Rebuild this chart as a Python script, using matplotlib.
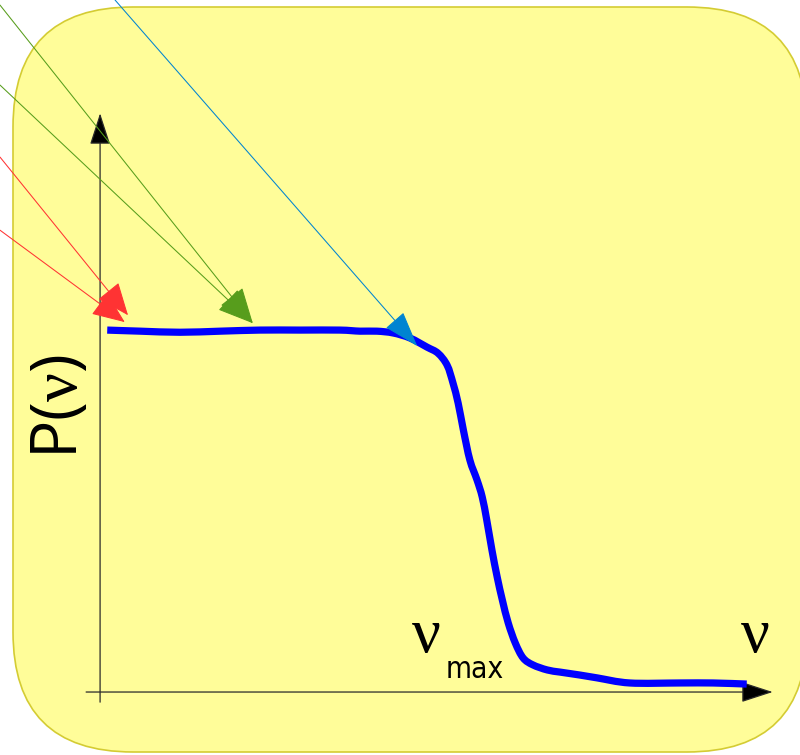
import os
import matplotlib
matplotlib.use('Agg')
import matplotlib.pyplot as plt
from matplotlib import font_manager
from matplotlib.patches import FancyBboxPatch, ArrowStyle, PathPatch
from matplotlib.path import Path

plt.rcParams['mathtext.fontset'] = 'custom'
plt.rcParams['mathtext.rm'] = 'Liberation Serif'

# ── Spectrum: frequency ν (axis units) vs P(ν) normalised to the plateau ──────
nu    = [0.11, 0.62, 1.23, 1.85, 2.46, 3.08, 3.69, 4.00, 4.26, 4.51, 4.77,
         5.03, 5.20, 5.34, 5.43, 5.51, 5.59, 5.69, 5.80, 5.88, 5.95, 6.03,
         6.11, 6.19, 6.28, 6.39, 6.51, 6.66, 6.88, 7.08, 7.38, 7.65, 8.15,
         8.92, 9.43, 9.95]
power = [1.000, 0.997, 0.994, 0.997, 1.000, 1.000, 1.000, 0.997, 0.997,
         0.992, 0.978, 0.953, 0.936, 0.903, 0.854, 0.798, 0.724, 0.641,
         0.586, 0.539, 0.475, 0.392, 0.318, 0.254, 0.191, 0.135, 0.094,
         0.075, 0.061, 0.055, 0.047, 0.039, 0.025, 0.025, 0.025, 0.022]

NU_MAX   = 5.02     # cut-off frequency label position
NU_LABEL = 10.08    # axis label for ν

# ── Callout arrows: (start ν, start P, tip ν, tip P, colour, head len, head half-width)
callouts = [
    (-1.54, 1.478, 0.43, 1.041, '#ff3333', 21.0, 8.6),
    (-1.54, 1.276, 0.38, 1.022, '#ff3333', 21.0, 8.6),
    (-1.54, 1.898, 2.35, 1.019, '#579d1c', 23.0, 9.2),
    (-1.54, 1.677, 2.35, 1.019, '#579d1c', 23.0, 9.2),
    ( 0.23, 1.912, 4.88, 0.956, '#0084d1', 23.0, 7.6),
]


def narrow_font():
    # condensed sans for the subscript, if one is installed
    found = []
    for f in font_manager.fontManager.ttflist:
        base = os.path.basename(f.fname).lower()
        if ('condensed' in base or 'narrow' in base) and not any(
                k in base for k in ('bold', 'oblique', 'italic', 'light',
                                    'semi', 'extra', 'thin', 'black', 'medium')):
            found.append(f.fname)
    found.sort(key=lambda p: 'dejavu' not in p.lower())
    if found:
        return font_manager.FontProperties(fname=found[0], size=21.5)
    return font_manager.FontProperties(family='Open Sans', size=21.5)


def smooth_path(xs, ys):
    # Catmull-Rom through the points, written as cubic Bézier segments
    pts = list(zip(xs, ys))
    verts, codes = [pts[0]], [Path.MOVETO]
    n = len(pts)
    for i in range(n - 1):
        p0 = pts[max(i - 1, 0)]
        p1 = pts[i]
        p2 = pts[i + 1]
        p3 = pts[min(i + 2, n - 1)]
        c1 = (p1[0] + (p2[0] - p0[0]) / 6, p1[1] + (p2[1] - p0[1]) / 6)
        c2 = (p2[0] - (p3[0] - p1[0]) / 6, p2[1] - (p3[1] - p1[1]) / 6)
        verts += [c1, c2, p2]
        codes += [Path.CURVE4] * 3
    return Path(verts, codes)


fig = plt.figure(figsize=(8, 7.55), dpi=100)

# rounded yellow panel, drawn in pixel units so the corners stay circular
bg = fig.add_axes([0, 0, 1, 1])
bg.set_xlim(0, 800)
bg.set_ylim(755, 0)
bg.axis('off')
bg.add_patch(FancyBboxPatch((13, 7), 794, 745,
                            boxstyle='round,pad=0,rounding_size=120',
                            fc='#fffd99', ec='#d4cc33', lw=1.2))

ax = fig.add_axes([0, 0, 1, 1])
ax.set_xlim(-1.54, 10.77)
ax.set_ylim(-0.174, 1.912)
ax.axis('off')


def arrow(x0, y0, x1, y1, color, lw, hl, hw, z, fc=None):
    ap = dict(arrowstyle=ArrowStyle('-|>', head_length=hl, head_width=hw),
              color=color, lw=lw, shrinkA=0, shrinkB=0, mutation_scale=1)
    if fc is not None:
        ap['fc'] = fc
    ax.annotate('', xy=(x1, y1), xytext=(x0, y0), annotation_clip=False,
                arrowprops=ap, zorder=z)


# axes with arrow heads
arrow(0, -0.028, 0, 1.599, '#2a2a2a', 0.9, 20, 6.5, 1, fc='black')
arrow(-0.215, 0, 10.35, 0, '#2a2a2a', 0.9, 20, 6.5, 1, fc='black')

# spectrum curve
ax.add_patch(PathPatch(smooth_path(nu, power), fc='none', ec='#0000ff',
                       lw=5.2, capstyle='butt', joinstyle='round', zorder=2))

for x0, y0, x1, y1, c, hl, hw in callouts:
    arrow(x0, y0, x1, y1, c, 0.75, hl, hw, 3)

# labels
ax.text(-0.354, 0.787, r'P($\mathrm{\nu}$)', family='Open Sans', fontsize=46,
        rotation=90, rotation_mode='anchor', ha='center', va='baseline',
        zorder=4)
ax.text(NU_MAX, 0.110, 'ν', family='Liberation Serif', fontsize=46,
        ha='center', va='baseline', zorder=4)
ax.text(NU_MAX + 0.29, 0.0387, 'max', fontproperties=narrow_font(),
        ha='left', va='baseline', zorder=4)
ax.text(NU_LABEL, 0.110, 'ν', family='Liberation Serif', fontsize=46,
        ha='center', va='baseline', zorder=4)

fig.savefig('out.png', dpi=100)
